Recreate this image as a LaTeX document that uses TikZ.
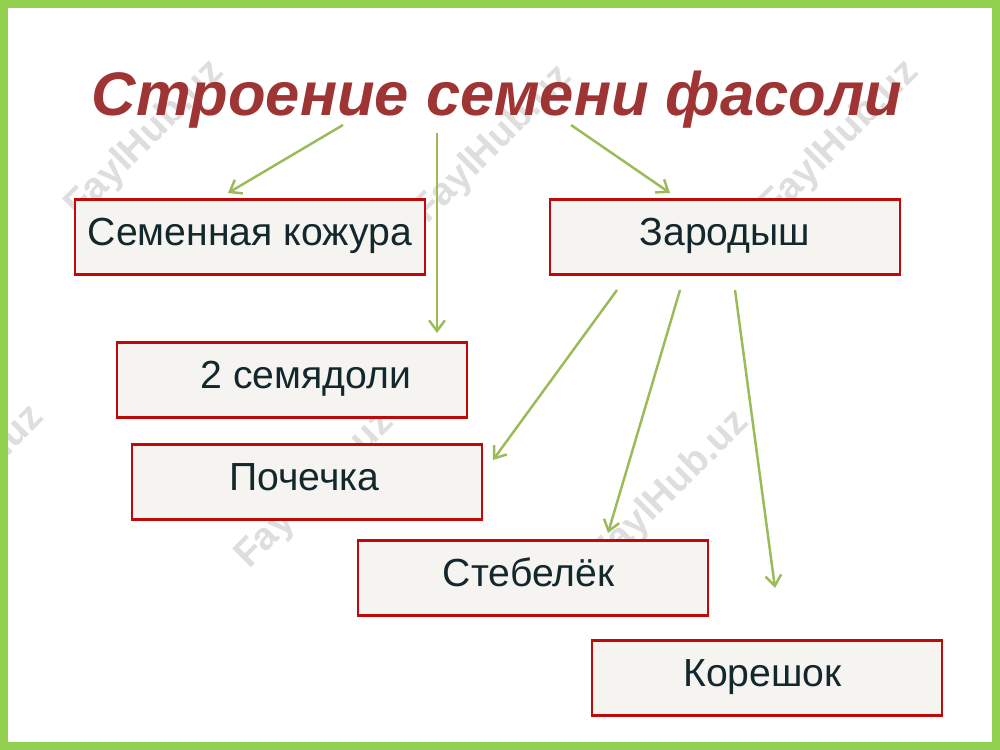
\documentclass[tikz,border=0pt]{standalone}
\usepackage{fontspec}
\setmainfont{Liberation Sans}
\usetikzlibrary{arrows.meta}
\definecolor{FrameClr}{RGB}{146,208,80}
\definecolor{TitleClr}{RGB}{158,52,52}
\definecolor{BoxLine}{RGB}{192,10,10}
\definecolor{BoxFill}{RGB}{246,244,241}
\definecolor{TextClr}{RGB}{18,40,44}
\definecolor{ArrowClr}{RGB}{155,187,89}
\definecolor{MarkClr}{RGB}{222,222,222}

\tikzset{
  partbox/.style={draw=BoxLine,fill=BoxFill,line width=1.2pt,
    minimum width=7cm,minimum height=1.5cm,inner sep=0pt,
    text=TextClr,font=\fontsize{22.3}{26}\selectfont,
    text height=16pt,text depth=6.5pt},
  partarrow/.style={draw=ArrowClr,line width=1.4pt,
    -{Straight Barb[length=6pt,width=9pt,line width=1.4pt]}},
  watermark/.style={text=MarkClr,font=\bfseries\fontsize{22}{24}\selectfont,rotate=45}
}

\begin{document}
\begin{tikzpicture}[x=0.02cm,y=-0.02cm]
\useasboundingbox (0,0) rectangle (1000,750);
\fill[white] (0,0) rectangle (1000,750);

% watermarks
\begin{scope}
\clip (0,0) rectangle (1000,750);
\foreach \wx/\wy [count=\wi] in {145/140,493/145,840/140,-35/485,315/490,670/490}
  \node[watermark] (mark\wi) at (\wx,\wy) {FaylHub.uz};
\end{scope}

\draw[FrameClr,line width=4.5pt] (4,4) rectangle (996,746);

\node[text=TitleClr,font=\bfseries\itshape\fontsize{35}{40}\selectfont] (title) at (497,100) {Строение семени фасоли};

\node[partbox] (kozhura) at (250,237) {Семенная кожура};
\node[partbox] (zarodysh) at (725,237) {Зародыш};
\node[partbox] (semyadoli) at (292,380) {\hspace*{16pt}2 семядоли};
\node[partbox] (pochechka) at (307,482) {\hspace*{-3pt}Почечка};
\node[partbox] (stebelek) at (533,578) {\hspace*{-5pt}Стебелёк};
\node[partbox] (koreshok) at (767,678) {\hspace*{-5pt}Корешок};

% arrow ends
\coordinate (t1) at (343,125);
\coordinate (t2) at (437,133);
\coordinate (t3) at (571,125);
\coordinate (k1) at (228,193);
\coordinate (s1) at (437,333);
\coordinate (z0) at (670,193);
\coordinate (z1) at (617,290);
\coordinate (z2) at (680,290);
\coordinate (z3) at (735,290);
\coordinate (p1) at (493,460);
\coordinate (st1) at (608,533);
\coordinate (ko1) at (775,588);

\draw[partarrow] (t1) -- (k1);
\draw[partarrow] (t2) -- (s1);
\draw[partarrow] (t3) -- (z0);
\draw[partarrow] (z1) -- (p1);
\draw[partarrow] (z2) -- (st1);
\draw[partarrow] (z3) -- (ko1);

\end{tikzpicture}
\end{document}
